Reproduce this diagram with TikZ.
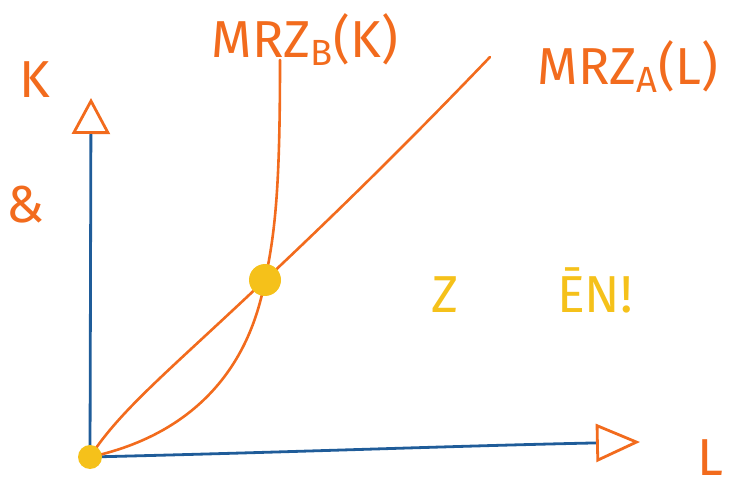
\documentclass[tikz,border=0pt]{standalone}
\usepackage{fontspec}
\setsansfont{Fira Sans}
\usetikzlibrary{arrows.meta}
\definecolor{penblue}{HTML}{1F5C99}
\definecolor{penorange}{HTML}{F26B1D}
\definecolor{penyellow}{HTML}{F5C11A}

\begin{document}
\begin{tikzpicture}[x=0.5pt, y=-0.5pt, line cap=round, line join=round,
      axis/.style={draw=penblue, line width=1.4pt,
        -{Triangle[open, color=penorange, line width=1.4pt, length=#1, width=19pt]}},
      curve/.style={draw=penorange, line width=1.3pt},
      lbl/.style={text=penorange, font=\sffamily\fontsize{26}{28}\selectfont, inner sep=0pt},
      note/.style={text=penyellow, font=\sffamily\fontsize{26}{28}\selectfont, inner sep=0pt},
      blob/.style={circle, fill=penyellow, inner sep=0pt, minimum size=#1}]
    \useasboundingbox (0,0) rectangle (749,496);
    % points
    \coordinate (o) at (90,457);
    \coordinate (ytip) at (91,98);
    \coordinate (xtip) at (640,442);
    \coordinate (btop) at (280,60);
    \coordinate (atop) at (490,57);
    \coordinate (e) at (265,280);
    % axes
    \draw[axis=18pt] (o) -- (ytip);
    \draw[axis=22pt] (o) .. controls (300,452) and (450,446) .. (xtip);
    % curves
    \draw[curve] (btop) .. controls (280,180) and (276,230) .. (e)
      .. controls (245,390) and (170,440) .. (o);
    \draw[curve] (o) .. controls (120,410) and (170,370) .. (e)
      .. controls (350,200) and (420,130) .. (atop);
    % points marked
    \node[blob=16pt] (eb) at (e) {};
    \node[blob=12pt] (ob) at (o) {};
    % labels
    \node[lbl] (kl) at (35,80) {K};
    \node[lbl] (ll) at (710,458) {L};
    \node[lbl] (amp) at (25,205) {\&};
    \node[lbl] (bl) at (305,40) {MRZ\textsubscript{B}(K)};
    \node[lbl] (al) at (628,67) {MRZ\textsubscript{A}(L)};
    \node[note] (zl) at (445,295) {Z};
    \node[note] (enl) at (595,290) {ĒN!};
\end{tikzpicture}
\end{document}
